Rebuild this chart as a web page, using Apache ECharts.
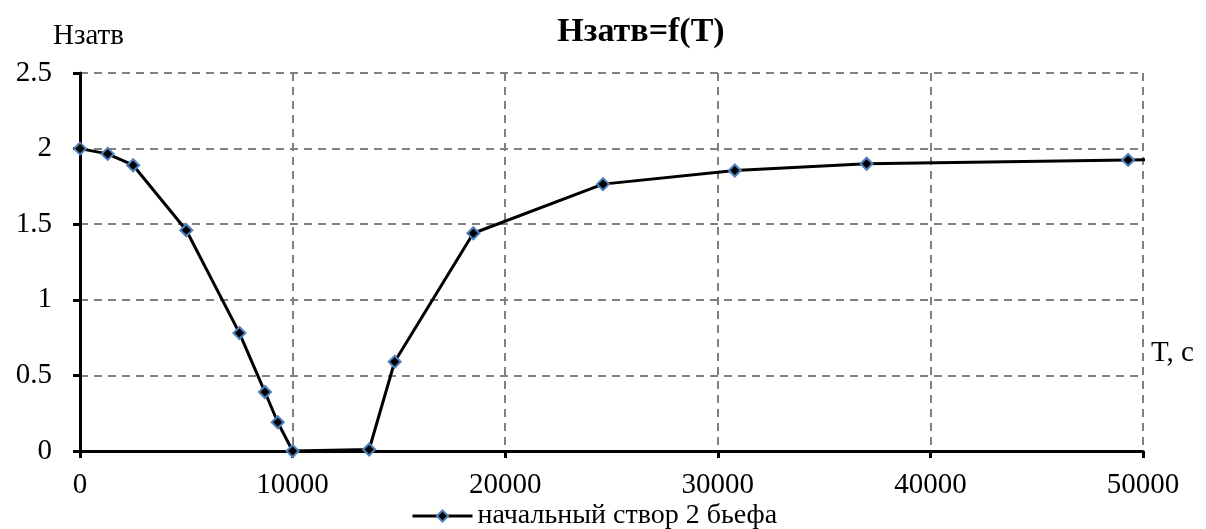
<!DOCTYPE html>
<html><head><meta charset="utf-8">
<script src="https://cdn.jsdelivr.net/npm/echarts@6/dist/echarts.min.js"></script>
<style>html,body{margin:0;padding:0;background:#fff}#c{width:1206px;height:529px}</style>
</head><body><div id="c"></div>
<script>
const seriesName = 'начальный створ 2 бьефа';
const tValues = [0, 1300, 2500, 5000, 7500, 8700, 9300, 10000, 13600, 14800, 18500, 24600, 30800, 37000, 49300, 61600];
const hValues = [2.0, 1.965, 1.89, 1.46, 0.78, 0.39, 0.19, 0.0, 0.01, 0.59, 1.44, 1.765, 1.855, 1.9, 1.925, 1.94];
const xTicks = [0, 10000, 20000, 30000, 40000, 50000];
const yTicks = [0, 0.5, 1, 1.5, 2, 2.5];

const font = 'Liberation Serif';
const chart = echarts.init(document.getElementById('c'));
chart.setOption({
  backgroundColor: '#fff',
  animation: false,
  title: {
    text: 'Нзатв=f(T)', left: 636, top: 10, textAlign: 'center',
    textStyle: {fontFamily: font, fontWeight: 'bold', fontSize: 34, color: '#000'}
  },
  graphic: [
    {type: 'text', left: 53, top: 22, style: {text: 'Нзатв', font: '29px "Liberation Serif"', fill: '#000'}},
    {type: 'text', left: 1151, top: 339, style: {text: 'T, с', font: '29px "Liberation Serif"', fill: '#000'}}
  ],
  legend: {
    bottom: -6, left: 406, itemWidth: 60, itemHeight: 14, itemGap: 4,
    textStyle: {fontFamily: font, fontSize: 28, color: '#000'},
    lineStyle: {width: 3, color: '#000'},
    data: [seriesName]
  },
  grid: {left: 80, right: 63, top: 73, bottom: 78},
  xAxis: {
    type: 'value', min: 0, max: 50000, interval: 10000,
    axisLine: {lineStyle: {color: '#000', width: 3}},
    axisTick: {show: true, inside: false, length: 7, lineStyle: {color: '#000', width: 3}},
    axisLabel: {fontFamily: font, fontSize: 29, color: '#000', margin: 20,
      formatter: v => String(v)},
    splitLine: {show: true, lineStyle: {color: '#808080', width: 2, type: [8, 6]}}
  },
  yAxis: {
    type: 'value', min: 0, max: 2.5, interval: 0.5,
    axisLine: {show: true, lineStyle: {color: '#000', width: 3}},
    axisTick: {show: true, inside: false, length: 7, lineStyle: {color: '#000', width: 3}},
    axisLabel: {fontFamily: font, fontSize: 29, color: '#000', margin: 28,
      formatter: v => String(v)},
    splitLine: {show: true, lineStyle: {color: '#808080', width: 2, type: [8, 6]}}
  },
  series: [{
    name: seriesName, type: 'line', clip: true,
    data: tValues.map((t, i) => [t, hValues[i]]),
    symbol: 'diamond', symbolSize: 12,
    lineStyle: {color: '#000', width: 3},
    itemStyle: {color: '#000', borderColor: '#4F81BD', borderWidth: 2}
  }]
});
</script></body></html>
